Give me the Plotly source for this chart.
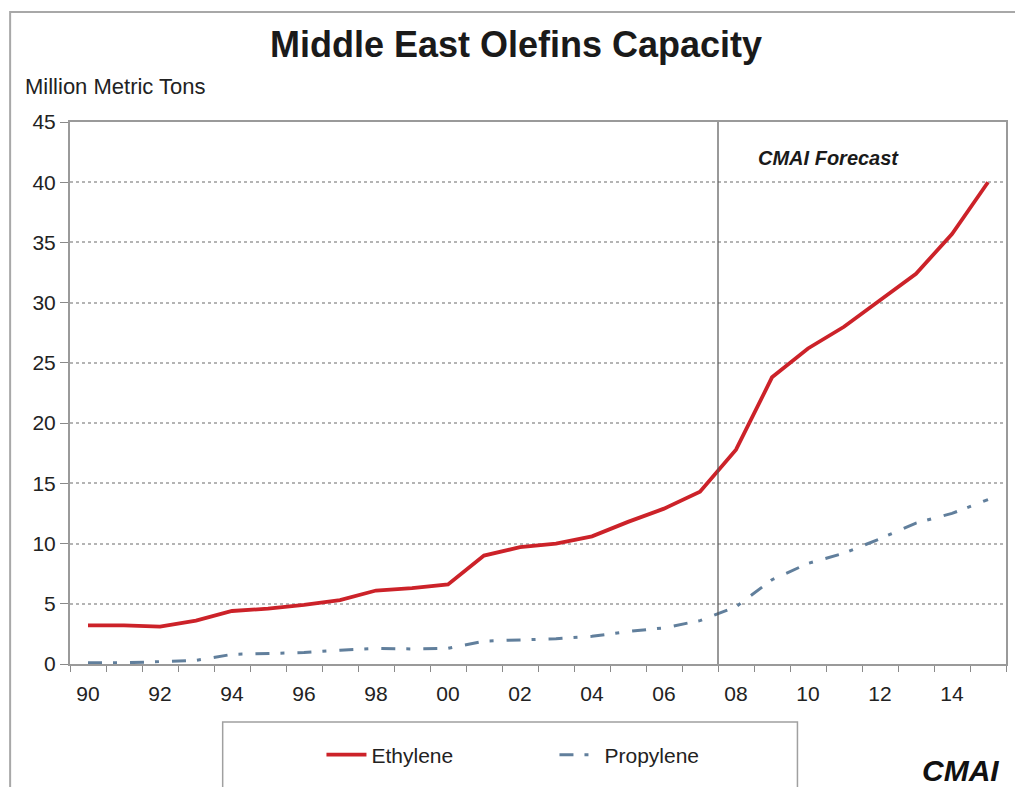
import plotly.graph_objects as go

# Capacity by year, million metric tons
years = list(range(1990, 2016))
ethylene = [3.2, 3.2, 3.1, 3.6, 4.4, 4.6, 4.9, 5.3, 6.1, 6.3, 6.6, 9.0, 9.7, 10.0,
            10.6, 11.8, 12.9, 14.3, 17.8, 23.8, 26.2, 28.0, 30.2, 32.4, 35.7, 40.0]
propylene = [0.1, 0.1, 0.2, 0.3, 0.8, 0.9, 0.95, 1.15, 1.3, 1.25, 1.3, 1.9, 2.0, 2.1,
             2.3, 2.7, 3.0, 3.6, 4.75, 7.0, 8.35, 9.2, 10.4, 11.7, 12.5, 13.65]
tick_years = list(range(1990, 2016, 2))
tick_text = [f"{y % 100:02d}" for y in tick_years]
forecast_start = 2007.5

W, H = 1015, 787
ML, MR, MT, MB = 70, 7, 122, 123
PW, PH = W - ML - MR, H - MT - MB


def px(x):
    return (x - ML) / PW


def py(y):
    return (H - MB - y) / PH


FONT = "Liberation Sans, Arial, sans-serif"
TXT = "#222222"

fig = go.Figure()
fig.add_trace(go.Scatter(
    x=years, y=ethylene, name="Ethylene", mode="lines",
    line=dict(color="#cc2229", width=3.8),
))
fig.add_trace(go.Scatter(
    x=years, y=propylene, name="Propylene", mode="lines",
    line=dict(color="#617f9c", width=3, dash="14px,11px,4px,13px"),
))

fig.update_layout(
    width=W, height=H,
    margin=dict(l=ML, r=MR, t=MT, b=MB),
    paper_bgcolor="white", plot_bgcolor="white",
    font=dict(family=FONT, color=TXT),
    showlegend=True,
    legend=dict(
        orientation="h", x=px(322), y=py(755), xanchor="left", yanchor="middle",
        entrywidth=178, entrywidthmode="pixels", itemwidth=40,
        font=dict(size=21, color=TXT), bgcolor="rgba(0,0,0,0)",
    ),
    title=dict(
        text="<b>Middle East Olefins Capacity</b>",
        x=px(517), xref="paper", xanchor="center",
        y=1 - 44 / H, yanchor="middle",
        font=dict(size=36, family=FONT, color="#1a1a1a"),
    ),
)

fig.update_xaxes(
    range=[1989.5, 2015.5],
    tickmode="array", tickvals=tick_years, ticktext=tick_text,
    ticks="", ticklabelstandoff=10,
    tickfont=dict(size=21, color=TXT),
    showgrid=False, zeroline=False,
    showline=True, linecolor="#9a9a9a", linewidth=2, mirror=True,
    minor=dict(tickmode="linear", tick0=1989.5, dtick=1, ticks="outside",
               ticklen=6, tickcolor="#8a8a8a", tickwidth=1, showgrid=False),
)
fig.update_yaxes(
    range=[0, 45], tickmode="linear", tick0=0, dtick=5,
    ticks="outside", ticklen=8, tickcolor="#8a8a8a",
    tickfont=dict(size=21, color=TXT),
    showgrid=True, gridcolor="#b4b4b4", griddash="dot", gridwidth=1.5,
    zeroline=False,
    showline=True, linecolor="#9a9a9a", linewidth=2, mirror=True,
)

# forecast divider
fig.add_shape(type="line", xref="x", yref="y", x0=forecast_start, x1=forecast_start,
              y0=0, y1=45, line=dict(color="#555555", width=1.2))
fig.add_annotation(text="<b><i>CMAI Forecast</i></b>", xref="x", yref="y",
                   x=forecast_start + 1.05, y=42, xanchor="left", yanchor="middle",
                   showarrow=False, font=dict(size=20, color="#1a1a1a"))

# unit label
fig.add_annotation(text="Million Metric Tons", xref="paper", yref="paper",
                   x=px(23), y=py(86), xanchor="left", yanchor="middle",
                   showarrow=False, font=dict(size=22, color=TXT))

# outer frame and legend box
fig.add_shape(type="rect", xref="paper", yref="paper", layer="below",
              x0=px(10), x1=px(1030), y0=py(810), y1=py(12),
              line=dict(color="#a8a8a8", width=2), fillcolor="rgba(0,0,0,0)")
fig.add_shape(type="rect", xref="paper", yref="paper",
              x0=px(223), x1=px(799), y0=py(800), y1=py(722),
              line=dict(color="#a0a0a0", width=1.5), fillcolor="rgba(0,0,0,0)")

# logo
fig.add_annotation(text="<b><i>CMAI</i></b>", xref="paper", yref="paper",
                   x=px(962), y=py(770), xanchor="center", yanchor="middle",
                   showarrow=False, font=dict(size=30, color="#111111"))

fig.write_html("out.html")
